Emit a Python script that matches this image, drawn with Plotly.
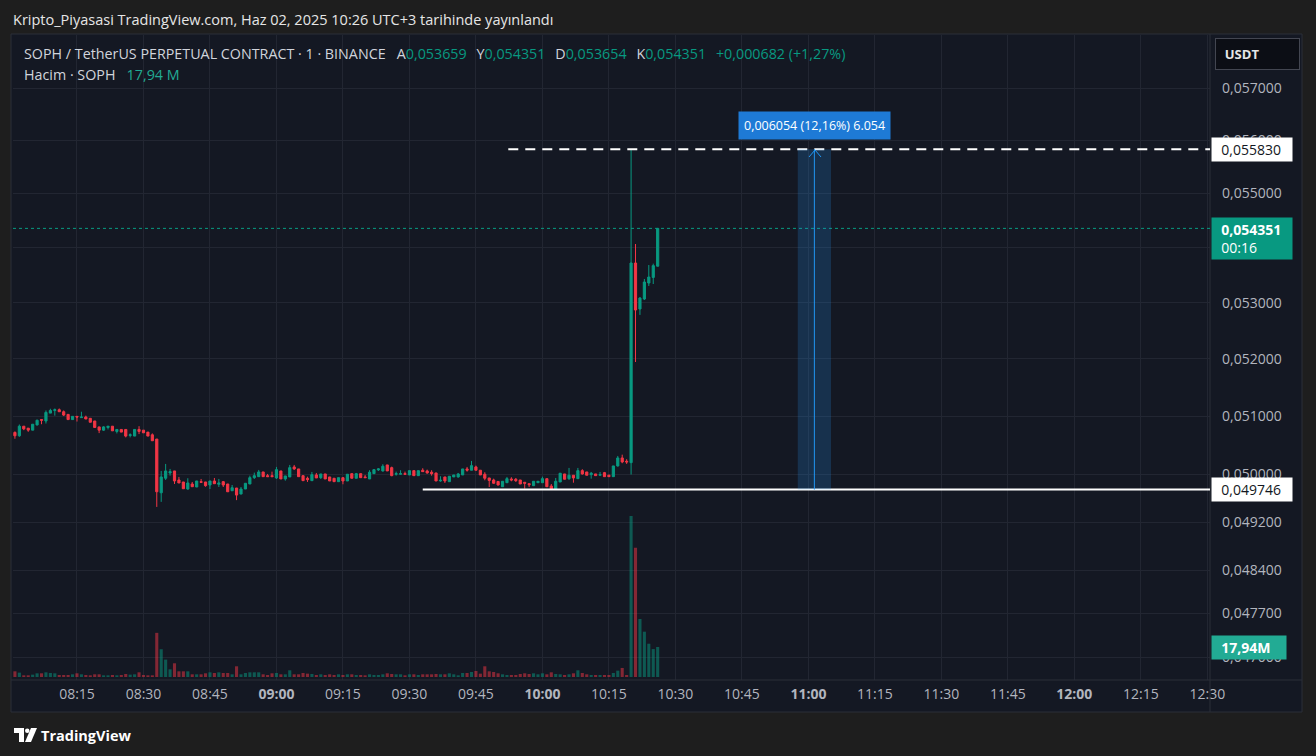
import numpy as np
import pandas as pd
import plotly.graph_objects as go

# 1-minute SOPH/USDT bars, 08:01 .. 10:26
times = pd.date_range("2025-06-02 08:01", periods=146, freq="min")

opens = [
    0.050719, 0.050661, 0.050826, 0.050792, 0.050758, 0.050848, 0.050940, 0.050916, 0.051052, 0.051098,
    0.051110, 0.051076, 0.051030, 0.050940, 0.050996, 0.050974, 0.050984, 0.050962, 0.050916, 0.050814,
    0.050758, 0.050804, 0.050826, 0.050736, 0.050770, 0.050770, 0.050668, 0.050656, 0.050770, 0.050758,
    0.050724, 0.050678, 0.050605, 0.049692, 0.049937, 0.050027, 0.050061, 0.049908, 0.049874, 0.049755,
    0.049840, 0.049789, 0.049879, 0.049874, 0.049823, 0.049891, 0.049835, 0.049879, 0.049840, 0.049726,
    0.049772, 0.049670, 0.049755, 0.049840, 0.049947, 0.049964, 0.050044, 0.049981, 0.049981, 0.049942,
    0.050061, 0.049925, 0.049959, 0.050129, 0.050095, 0.049981, 0.049937, 0.049896, 0.049993, 0.049947,
    0.050010, 0.049959, 0.049937, 0.049879, 0.049947, 0.049891, 0.050015, 0.049937, 0.050015, 0.049959,
    0.049925, 0.050015, 0.050078, 0.050061, 0.050163, 0.050117, 0.050005, 0.050005, 0.050015, 0.049993,
    0.050066, 0.049981, 0.050073, 0.050061, 0.050039, 0.050027, 0.049891, 0.049959, 0.049879, 0.049959,
    0.049959, 0.049993, 0.050095, 0.050073, 0.050129, 0.050073, 0.050005, 0.049942, 0.049908, 0.049883,
    0.049794, 0.049862, 0.049925, 0.049920, 0.049908, 0.049869, 0.049845, 0.049811, 0.049862, 0.049862,
    0.049930, 0.049806, 0.049750, 0.049874, 0.050010, 0.049930, 0.049988, 0.049930, 0.050066, 0.050044,
    0.049998, 0.050010, 0.049988, 0.050032, 0.049988, 0.049964, 0.050146, 0.050282, 0.050226, 0.050202,
    0.053717, 0.052886, 0.053065, 0.053354, 0.053455, 0.053659,
]
highs = [
    0.050736, 0.050855, 0.050826, 0.050792, 0.050860, 0.050940, 0.050940, 0.051098, 0.051127, 0.051132,
    0.051132, 0.051098, 0.051030, 0.050996, 0.050996, 0.051076, 0.051008, 0.050962, 0.050916, 0.050814,
    0.050826, 0.050826, 0.050826, 0.050770, 0.050770, 0.050770, 0.050702, 0.050770, 0.050826, 0.050758,
    0.050724, 0.050702, 0.050605, 0.050061, 0.050180, 0.050095, 0.050061, 0.049959, 0.049874, 0.049937,
    0.049874, 0.049891, 0.049925, 0.049874, 0.049891, 0.049942, 0.049925, 0.049891, 0.049840, 0.049823,
    0.049772, 0.049789, 0.049852, 0.049981, 0.050032, 0.050078, 0.050044, 0.050010, 0.050049, 0.050129,
    0.050061, 0.049976, 0.050163, 0.050163, 0.050095, 0.049981, 0.049964, 0.050044, 0.050027, 0.050010,
    0.050010, 0.049959, 0.049937, 0.049947, 0.049947, 0.050005, 0.050015, 0.050027, 0.050015, 0.049993,
    0.050073, 0.050083, 0.050107, 0.050175, 0.050163, 0.050134, 0.050049, 0.050073, 0.050049, 0.050066,
    0.050066, 0.050066, 0.050107, 0.050083, 0.050073, 0.050027, 0.049971, 0.049959, 0.049971, 0.049993,
    0.050027, 0.050095, 0.050129, 0.050231, 0.050151, 0.050073, 0.050039, 0.049942, 0.049930, 0.049883,
    0.049886, 0.049959, 0.049954, 0.049942, 0.049908, 0.049869, 0.049845, 0.049886, 0.049886, 0.049964,
    0.049930, 0.049840, 0.049942, 0.050022, 0.050010, 0.050112, 0.049988, 0.050112, 0.050090, 0.050044,
    0.050044, 0.050010, 0.050044, 0.050044, 0.049998, 0.050146, 0.050316, 0.050338, 0.050260, 0.055830,
    0.054064, 0.053100, 0.053427, 0.053680, 0.053705, 0.054351,
]
lows = [
    0.050610, 0.050644, 0.050758, 0.050729, 0.050758, 0.050838, 0.050860, 0.050872, 0.051052, 0.051008,
    0.051076, 0.051001, 0.050940, 0.050940, 0.050906, 0.050974, 0.050950, 0.050894, 0.050804, 0.050707,
    0.050746, 0.050770, 0.050746, 0.050702, 0.050724, 0.050634, 0.050634, 0.050656, 0.050690, 0.050712,
    0.050656, 0.050576, 0.049454, 0.049539, 0.049908, 0.049981, 0.049840, 0.049857, 0.049760, 0.049743,
    0.049794, 0.049789, 0.049869, 0.049794, 0.049755, 0.049845, 0.049789, 0.049789, 0.049709, 0.049726,
    0.049568, 0.049670, 0.049755, 0.049840, 0.049925, 0.049964, 0.049964, 0.049964, 0.049964, 0.049925,
    0.049925, 0.049896, 0.049959, 0.050078, 0.049964, 0.049896, 0.049874, 0.049896, 0.049942, 0.049925,
    0.049925, 0.049891, 0.049879, 0.049879, 0.049835, 0.049891, 0.049937, 0.049937, 0.049947, 0.049947,
    0.049925, 0.050015, 0.050061, 0.050049, 0.050061, 0.049971, 0.049981, 0.050005, 0.050005, 0.049993,
    0.049981, 0.049981, 0.050049, 0.050015, 0.049981, 0.049891, 0.049879, 0.049857, 0.049879, 0.049959,
    0.049947, 0.049993, 0.050049, 0.050073, 0.050073, 0.049993, 0.049903, 0.049789, 0.049845, 0.049815,
    0.049794, 0.049862, 0.049886, 0.049874, 0.049840, 0.049760, 0.049789, 0.049811, 0.049862, 0.049862,
    0.049794, 0.049746, 0.049750, 0.049874, 0.049920, 0.049908, 0.049862, 0.049930, 0.049998, 0.049988,
    0.049930, 0.049981, 0.049988, 0.049964, 0.049964, 0.049964, 0.050134, 0.050192, 0.050180, 0.050000,
    0.051944, 0.052780, 0.053047, 0.053300, 0.053336, 0.053654,
]
closes = [
    0.050661, 0.050826, 0.050780, 0.050758, 0.050860, 0.050928, 0.050928, 0.051064, 0.051098, 0.051110,
    0.051076, 0.051018, 0.050940, 0.050996, 0.050984, 0.050984, 0.050950, 0.050894, 0.050804, 0.050758,
    0.050814, 0.050826, 0.050746, 0.050770, 0.050724, 0.050656, 0.050678, 0.050770, 0.050736, 0.050712,
    0.050656, 0.050576, 0.049709, 0.049959, 0.050061, 0.050049, 0.049891, 0.049857, 0.049760, 0.049857,
    0.049794, 0.049891, 0.049869, 0.049811, 0.049891, 0.049845, 0.049857, 0.049823, 0.049709, 0.049777,
    0.049653, 0.049755, 0.049852, 0.049947, 0.049981, 0.050044, 0.049964, 0.049964, 0.049964, 0.050083,
    0.049925, 0.049976, 0.050117, 0.050095, 0.049964, 0.049896, 0.049913, 0.049998, 0.049942, 0.050010,
    0.049925, 0.049891, 0.049879, 0.049947, 0.049891, 0.050005, 0.049937, 0.050015, 0.049947, 0.049947,
    0.050039, 0.050083, 0.050095, 0.050141, 0.050061, 0.049981, 0.050015, 0.050015, 0.050005, 0.050066,
    0.049981, 0.050066, 0.050049, 0.050027, 0.050015, 0.049891, 0.049903, 0.049891, 0.049971, 0.049993,
    0.050010, 0.050095, 0.050073, 0.050151, 0.050073, 0.049993, 0.049937, 0.049900, 0.049852, 0.049823,
    0.049886, 0.049930, 0.049908, 0.049896, 0.049840, 0.049852, 0.049828, 0.049886, 0.049886, 0.049930,
    0.049794, 0.049750, 0.049886, 0.050022, 0.049920, 0.049988, 0.049942, 0.050066, 0.050010, 0.049988,
    0.050022, 0.049981, 0.049998, 0.049964, 0.049964, 0.050146, 0.050282, 0.050214, 0.050214, 0.053717,
    0.052868, 0.053083, 0.053372, 0.053462, 0.053669, 0.054351,
]
# volume in millions of SOPH
volumes = [
    3.4, 2.6, 1.0, 1.0, 1.4, 2.2, 2.2, 2.8, 2.4, 2.2,
    1.2, 1.2, 1.2, 1.6, 2.2, 1.6, 1.2, 1.0, 1.6, 1.6,
    1.0, 1.0, 1.2, 1.0, 1.2, 1.8, 1.4, 1.6, 2.8, 1.2,
    1.0, 1.0, 26.4, 16.6, 10.4, 4.6, 8.2, 3.4, 3.4, 3.4,
    1.6, 1.6, 1.6, 2.2, 2.8, 2.4, 2.8, 2.4, 2.4, 1.6,
    6.4, 1.6, 2.4, 2.8, 2.8, 2.8, 1.6, 1.2, 2.2, 2.4,
    1.6, 1.6, 4.0, 1.6, 1.6, 2.4, 2.0, 1.8, 1.2, 1.6,
    1.2, 1.6, 1.2, 1.6, 1.2, 1.6, 1.6, 1.2, 1.2, 1.0,
    1.6, 1.2, 1.2, 1.6, 2.2, 1.8, 1.6, 1.6, 1.0, 1.6,
    1.6, 1.2, 1.6, 1.6, 1.6, 1.8, 1.6, 1.6, 2.2, 1.6,
    1.0, 2.4, 2.4, 3.0, 3.6, 2.0, 6.4, 3.4, 3.0, 2.2,
    1.6, 1.2, 1.2, 1.2, 1.8, 2.2, 1.8, 2.2, 1.6, 2.2,
    1.6, 2.8, 1.8, 1.6, 1.2, 1.6, 2.2, 4.0, 2.4, 1.6,
    1.2, 1.2, 1.2, 1.2, 1.2, 2.4, 3.8, 5.4, 1.2, 96.3,
    77.3, 34.7, 27.1, 19.9, 16.7, 17.94,
]

price_ticks = [0.057, 0.056, 0.055, 0.054, 0.053, 0.052, 0.051, 0.050, 0.0492, 0.0484, 0.0477, 0.047]
hidden_ticks = [0.054]   # covered by the last-price label
time_ticks = pd.date_range("2025-06-02 08:15", "2025-06-02 12:30", freq="15min")

range_low, range_high = 0.049746, 0.055830   # drawn horizontal lines
measure_text = "0,006054 (12,16%) 6.054"

UP, DOWN = "#089981", "#f23645"
BG, OUTER, GRID, TXT = "#141823", "#1e1e1e", "#222632", "#b2b5be"
FONT = "Open Sans"
PAD = "\u00a0\u00a0"


def comma(v, nd=6):
    return f"{v:.{nd}f}".replace(".", ",")


def px(x):
    # pixel x -> paper x
    return (x - 13) / 1197


def py(y):
    # pixel y -> paper y
    return (680 - y) / 645


vol_colors = [
    "rgba(8,153,129,0.5)" if c >= o else "rgba(242,54,69,0.5)" for o, c in zip(opens, closes)
]

fig = go.Figure()

fig.add_trace(
    go.Bar(
        x=times,
        y=volumes,
        marker=dict(color=vol_colors, line=dict(width=0)),
        yaxis="y2",
        hoverinfo="skip",
    )
)

fig.add_trace(
    go.Candlestick(
        x=times,
        open=opens,
        high=highs,
        low=lows,
        close=closes,
        increasing=dict(line=dict(color=UP, width=1), fillcolor=UP),
        decreasing=dict(line=dict(color=DOWN, width=1), fillcolor=DOWN),
        whiskerwidth=0,
    )
)

x_text = [
    f"<b>{t:%H:%M}</b>" if t.minute == 0 else f"{t:%H:%M}" for t in time_ticks
]
y_text = ["" if v in hidden_ticks else comma(v) for v in price_ticks]

fig.update_layout(
    width=1316,
    height=756,
    margin=dict(l=13, r=106, t=35, b=76),
    paper_bgcolor=OUTER,
    plot_bgcolor=BG,
    showlegend=False,
    bargap=0.3,
    font=dict(family=FONT, size=14, color=TXT),
    xaxis=dict(
        type="date",
        range=["2025-06-02 08:00:34", "2025-06-02 12:30:36"],
        tickvals=time_ticks,
        ticktext=x_text,
        showgrid=True,
        gridcolor=GRID,
        zeroline=False,
        showline=False,
        ticks="",
        ticklabelstandoff=4,
        tickfont=dict(size=14, color=TXT),
        rangeslider=dict(visible=False),
        fixedrange=True,
    ),
    yaxis=dict(
        type="log",
        side="right",
        range=[-1.331279, -1.236322],
        tickvals=price_ticks,
        ticktext=y_text,
        showgrid=True,
        gridcolor=GRID,
        zeroline=False,
        showline=False,
        ticks="",
        ticklabelstandoff=11,
        tickfont=dict(size=14, color=TXT),
    ),
    yaxis2=dict(
        overlaying="y",
        range=[-1.8, 384],
        visible=False,
    ),
)

t_box0, t_box1 = "2025-06-02 10:57:36", "2025-06-02 11:05:06"
t_mid = "2025-06-02 11:01:21"
t_end = "2025-06-02 12:30:36"

shapes = [
    # chart pane
    dict(type="rect", xref="paper", yref="paper", x0=px(11), x1=px(1302), y0=py(712), y1=py(34),
         fillcolor=BG, line=dict(color="#2a2e39", width=1), layer="below"),
    dict(type="line", xref="paper", yref="paper", x0=1, x1=1, y0=py(712), y1=py(34),
         line=dict(color="#2a2e39", width=1)),
    dict(type="line", xref="paper", yref="paper", x0=px(11), x1=px(1302), y0=0, y1=0,
         line=dict(color="#2a2e39", width=1)),
    # last price dotted line
    dict(type="line", xref="paper", yref="y", x0=0, x1=1, y0=closes[-1], y1=closes[-1],
         line=dict(color=UP, width=1, dash="dot")),
    # drawn levels
    dict(type="line", xref="x", yref="y", x0="2025-06-02 09:33", x1=t_end, y0=range_low, y1=range_low,
         line=dict(color="white", width=2)),
    dict(type="line", xref="x", yref="y", x0="2025-06-02 09:52:18", x1=t_end, y0=range_high, y1=range_high,
         line=dict(color="white", width=2, dash="10px,7px")),
    # price range measure
    dict(type="rect", xref="x", yref="y", x0=t_box0, x1=t_box1, y0=range_low, y1=range_high,
         fillcolor="rgba(33,150,243,0.2)", line=dict(width=0)),
    dict(type="line", xref="x", yref="y", x0=t_mid, x1=t_mid, y0=range_low, y1=range_high,
         line=dict(color="#2196f3", width=1)),
    dict(type="path", xref="paper", yref="paper",
         path=f"M{px(809)},{py(157)} L{px(815)},{py(150)} L{px(821)},{py(157)}",
         line=dict(color="#2196f3", width=1)),
    # TradingView logo
    dict(type="path", xref="paper", yref="paper",
         path=f"M{px(14)},{py(728)} L{px(24)},{py(728)} L{px(24)},{py(742)} L{px(19)},{py(742)} "
              f"L{px(19)},{py(733)} L{px(14)},{py(733)} Z",
         fillcolor="white", line=dict(width=0)),
    dict(type="circle", xref="paper", yref="paper", x0=px(25), x1=px(29.5), y0=py(733), y1=py(728.5),
         fillcolor="white", line=dict(width=0)),
    dict(type="path", xref="paper", yref="paper",
         path=f"M{px(31)},{py(728)} L{px(37)},{py(728)} L{px(31)},{py(742)} L{px(25)},{py(742)} Z",
         fillcolor="white", line=dict(width=0)),
]
fig.update_layout(shapes=shapes)

last_o, last_h, last_l, last_c = opens[-1], highs[-1], lows[-1], closes[-1]
chg = last_c - closes[-2]
pct = chg / closes[-2] * 100


def teal(s):
    return f"<span style='color:{UP}'>{s}</span>"


GAP1 = "\u00a0\u00a0\u00a0"
GAP = "\u00a0\u00a0\u2009"
legend1 = (
    f"SOPH / TetherUS PERPETUAL CONTRACT · 1 · BINANCE{GAP1}"
    f"A{teal(comma(last_o))}{GAP}Y{teal(comma(last_h))}{GAP}D{teal(comma(last_l))}{GAP}"
    f"K{teal(comma(last_c))}{GAP}"
    f"{teal('+' + comma(chg) + ' (+' + comma(pct, 2) + '%)')}"
)
legend2 = f"Hacim · SOPH{GAP1}<span style='color:#22ab94'>{comma(volumes[-1], 2)} M</span>"

annotations = [
    dict(text="Kripto_Piyasasi TradingView.com, Haz 02, 2025 10:26 UTC+3 tarihinde yayınlandı",
         xref="paper", yref="paper", x=px(11), y=py(19), xanchor="left", yanchor="middle",
         showarrow=False, font=dict(size=14.5, color="#e6e6e6")),
    dict(text=legend1, xref="paper", yref="paper", x=px(22), y=py(53), xanchor="left", yanchor="middle",
         showarrow=False, font=dict(size=14.3, color="#d1d4dc")),
    dict(text=legend2, xref="paper", yref="paper", x=px(22), y=py(74), xanchor="left", yanchor="middle",
         showarrow=False, font=dict(size=14.3, color="#d1d4dc")),
    dict(text=PAD + "<b>USDT</b>", xref="paper", yref="paper", x=px(1215), y=py(54), xanchor="left",
         yanchor="middle", showarrow=False, width=79, height=26, align="left", borderpad=2,
         bgcolor="#0c0e15", bordercolor="#434651", borderwidth=1, font=dict(size=13, color="#e6e6e6")),
    dict(text=PAD + comma(range_high), xref="paper", yref="y", x=px(1211), y=np.log10(range_high),
         xanchor="left", yanchor="middle", showarrow=False, bgcolor="white", borderpad=2,
         width=76, align="left", font=dict(size=14, color="#131722")),
    dict(text=PAD + comma(range_low), xref="paper", yref="y", x=px(1211), y=np.log10(range_low),
         xanchor="left", yanchor="middle", showarrow=False, bgcolor="white", borderpad=2,
         width=76, align="left", font=dict(size=14, color="#131722")),
    dict(text=f"{PAD}<b>{comma(last_c)}</b><br>{PAD}00:16", xref="paper", yref="y", x=px(1211),
         y=np.log10(last_c), xanchor="left", yanchor="top", yshift=11, showarrow=False, bgcolor=UP,
         borderpad=2, width=76, align="left", font=dict(size=14, color="white")),
    dict(text=f"{PAD}<b>{comma(volumes[-1], 2)}M</b>", xref="paper", yref="y2", x=px(1211), y=volumes[-1],
         xanchor="left", yanchor="middle", showarrow=False, bgcolor="#22ab94", borderpad=2,
         width=70, align="left", font=dict(size=14, color="white")),
    dict(text=measure_text, xref="x", yref="paper", x=t_mid, y=py(126), xanchor="center",
         yanchor="middle", showarrow=False, bgcolor="#1e7ad6", borderpad=5,
         font=dict(size=12.5, color="white")),
    dict(text="<b>TradingView</b>", xref="paper", yref="paper", x=px(39), y=py(735), xanchor="left",
         yanchor="middle", showarrow=False, font=dict(size=14.5, color="white")),
]
fig.update_layout(annotations=annotations)

fig.write_html(
    "out.html",
    config={"displayModeBar": False},
    post_script="document.body.style.margin='0';",
)
